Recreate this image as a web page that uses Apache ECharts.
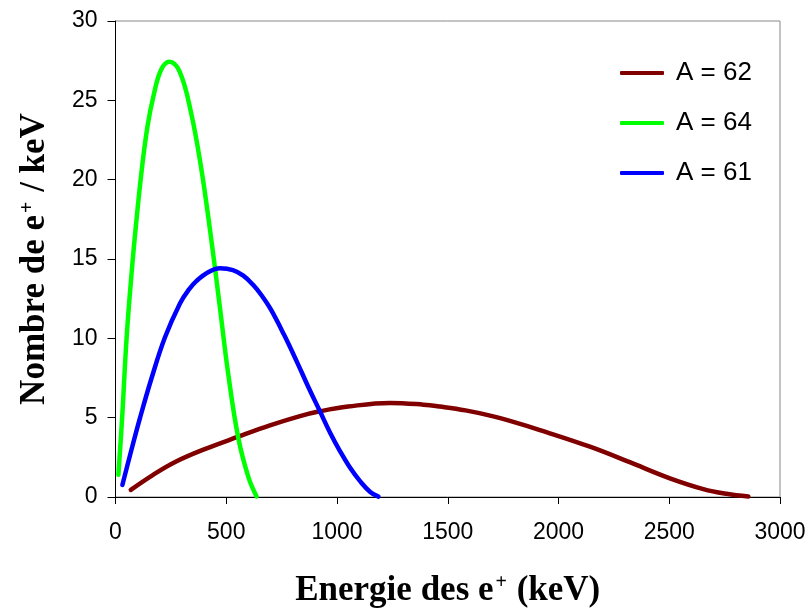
<!DOCTYPE html>
<html>
<head>
<meta charset="utf-8">
<script src="https://cdn.jsdelivr.net/npm/echarts@6/dist/echarts.min.js"></script>
<style>
  html, body { margin: 0; padding: 0; background: #fff; }
  #chart { width: 811px; height: 613px; }
</style>
</head>
<body>
<div id="chart"></div>
<script>
// spectre des positons (keV, e+/keV)
const energy62 = [69, 170, 276, 400, 554, 694, 833, 923, 1050, 1239, 1390, 1465, 1580, 1691, 1800, 1916, 2142, 2338, 2503, 2654, 2759, 2857]
const counts62 = [0.45, 1.4, 2.25, 3.0, 3.8, 4.5, 5.1, 5.4, 5.7, 5.93, 5.82, 5.7, 5.46, 5.13, 4.72, 4.22, 3.17, 2.1, 1.18, 0.5, 0.2, 0.03]

const energy64 = [13, 30, 50, 72, 95, 120, 145, 172, 205, 243, 290, 340, 385, 428, 470, 509, 554, 600, 637]
const counts64 = [1.4, 5, 10, 14, 17.5, 20.8, 23.4, 25.3, 26.9, 27.43, 26.8, 24.3, 20.9, 16.7, 12.1, 7.75, 3.75, 1.25, 0.03]

const energy61 = [31, 65, 111, 163, 223, 291, 330, 366, 420, 472, 530, 577, 622, 660, 700, 760, 818, 870, 923, 970, 1014, 1060, 1104, 1150, 1187]
const counts61 = [0.76, 2.6, 5.0, 7.5, 10.05, 12.2, 13.05, 13.62, 14.18, 14.41, 14.3, 13.95, 13.36, 12.7, 11.85, 10.25, 8.55, 6.95, 5.4, 4.02, 2.88, 1.82, 1.0, 0.32, 0.02]

const seriesNames = ['A = 62', 'A = 64', 'A = 61']
const colors = ['#800000', '#00FF00', '#0000FF']

const pairs = (xs, ys) => xs.map((x, i) => [x, ys[i]])

const sans = '"Liberation Sans", Arial, sans-serif'
const serif = '"Liberation Serif", "Times New Roman", serif'

const titleRich = {
  a: { fontFamily: serif, fontWeight: 'bold', fontSize: 35, color: '#000' },
  s: { fontFamily: serif, fontWeight: 'bold', fontSize: 20, color: '#000', verticalAlign: 'top', padding: [0, 1, 0, 2] }
}

const lineSeries = (i, xs, ys) => ({
  name: seriesNames[i],
  type: 'line',
  smooth: 0.4,
  symbol: 'none',
  lineStyle: { width: 4.5, color: colors[i], cap: 'round' },
  data: pairs(xs, ys)
})

const chart = echarts.init(document.getElementById('chart'))

chart.setOption({
  animation: false,
  backgroundColor: '#fff',
  color: colors,
  grid: {
    left: 115.5, right: 31, top: 21, bottom: 116,
    show: true, borderColor: '#888', borderWidth: 1
  },
  legend: {
    orient: 'vertical',
    left: 615, top: 54,
    icon: 'roundRect',
    itemWidth: 44, itemHeight: 4, itemGap: 22,
    textStyle: { fontFamily: sans, fontSize: 26, color: '#000', lineHeight: 28, padding: [0, 0, 0, 7] },
    data: seriesNames
  },
  xAxis: {
    type: 'value',
    min: 0, max: 3000, interval: 500,
    name: '{a|Energie des e}{s|+}{a| (keV)}',
    nameLocation: 'middle',
    nameGap: 76,
    nameTextStyle: { rich: titleRich },
    axisLine: { lineStyle: { color: '#000', width: 1 } },
    axisTick: { inside: false, length: 7, lineStyle: { color: '#000' } },
    axisLabel: { margin: 24, fontFamily: sans, fontSize: 23, color: '#000', formatter: (v) => String(v) },
    splitLine: { show: false }
  },
  yAxis: {
    type: 'value',
    min: 0, max: 30, interval: 5,
    name: '{a|Nombre de e}{s|+}{a| / keV}',
    nameLocation: 'middle',
    nameGap: 63,
    nameTextStyle: { rich: titleRich },
    axisLine: { show: true, lineStyle: { color: '#000', width: 1 } },
    axisTick: { show: true, inside: false, length: 8, lineStyle: { color: '#000' } },
    axisLabel: { margin: 18, fontFamily: sans, fontSize: 23, color: '#000', formatter: (v) => String(v) },
    splitLine: { show: false }
  },
  series: [
    lineSeries(0, energy62, counts62),
    lineSeries(1, energy64, counts64),
    lineSeries(2, energy61, counts61)
  ]
})
</script>
</body>
</html>
